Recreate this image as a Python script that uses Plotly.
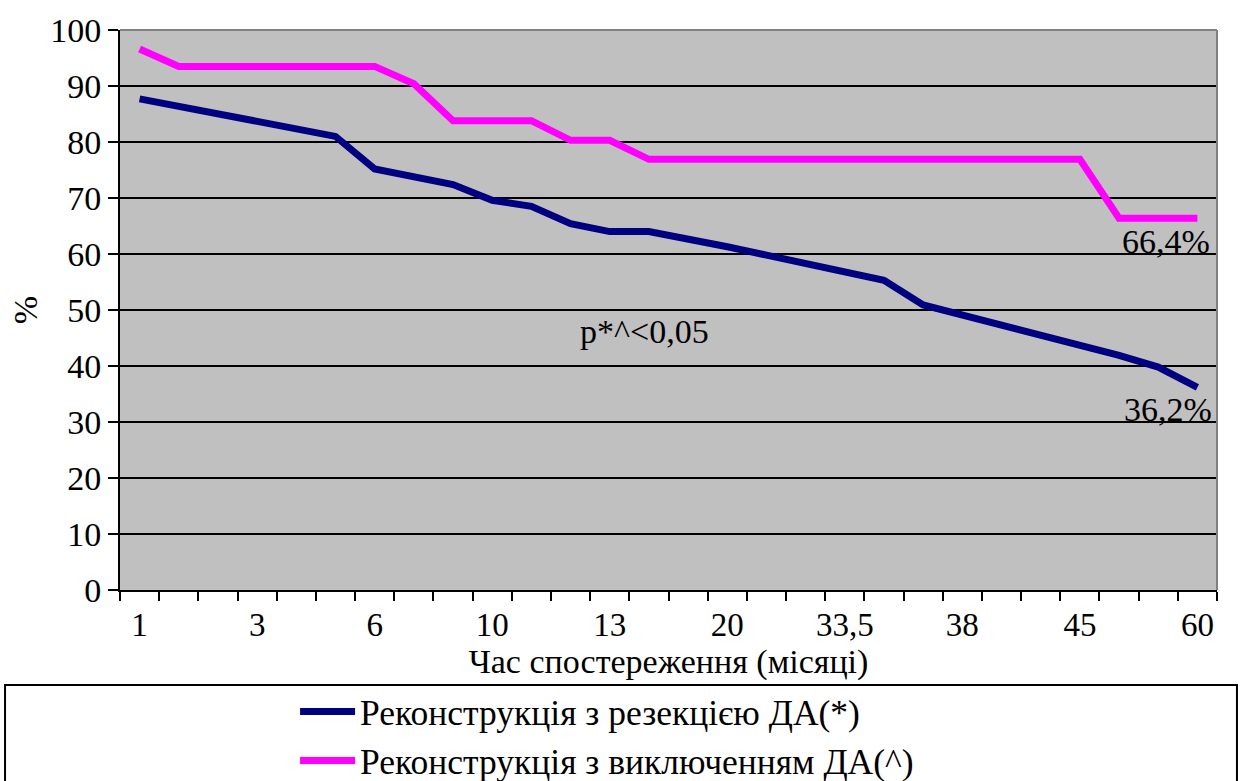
import plotly.graph_objects as go

# Observation time categories (months); only every third one is labelled
month_labels = ["1", "3", "6", "10", "13", "20", "33,5", "38", "45", "60"]
label_positions = [0, 3, 6, 9, 12, 15, 18, 21, 24, 27]
n_points = 28

# Survival, %
resection = [87.7, 86.4, 85.0, 83.7, 82.3, 81.0, 75.2, 73.9, 72.4, 69.6,
             68.5, 65.4, 64.0, 64.0, 62.8, 61.3, 59.8, 58.3, 56.8, 55.3,
             50.9, 49.1, 47.4, 45.6, 43.9, 41.9, 39.8, 36.2]
exclusion = [96.6, 93.5, 93.5, 93.5, 93.5, 93.5, 93.5, 90.4, 83.8, 83.8,
             83.8, 80.3, 80.3, 76.9, 76.9, 76.9, 76.9, 76.9, 76.9, 76.9,
             76.9, 76.9, 76.9, 76.9, 76.9, 66.4, 66.4, 66.4]

name_resection = "Реконструкція з резекцією ДА(*)"
name_exclusion = "Реконструкція з виключенням ДА(^)"
p_text = "p*^<0,05"

FONT = "'Times New Roman', 'Liberation Serif', serif"
FS = 34
x = list(range(n_points))

fig = go.Figure()
fig.add_trace(go.Scatter(x=x, y=resection, mode="lines", name=name_resection,
                         line=dict(color="#000080", width=7)))
fig.add_trace(go.Scatter(x=x, y=exclusion, mode="lines", name=name_exclusion,
                         line=dict(color="#FF00FF", width=7)))

# end-point value labels
fig.add_annotation(x=x[-1], y=exclusion[-1], text=f"{exclusion[-1]:.1f}%".replace(".", ","),
                   showarrow=False, xanchor="right", yanchor="top", xshift=15, yshift=-3,
                   font=dict(family=FONT, size=FS, color="black"))
fig.add_annotation(x=x[-1], y=resection[-1], text=f"{resection[-1]:.1f}%".replace(".", ","),
                   showarrow=False, xanchor="right", yanchor="top", xshift=17, yshift=-2,
                   font=dict(family=FONT, size=FS, color="black"))
fig.add_annotation(x=12.9, y=46.2, text=p_text, showarrow=False,
                   font=dict(family=FONT, size=FS, color="black"))

# legend frame spanning the page width
fig.add_shape(type="rect", xref="paper", yref="paper",
              x0=-0.1048, x1=1.0182, y0=-0.40, y1=-0.1696,
              line=dict(color="black", width=2), fillcolor="white", layer="below")

# plot frame: grey top/right edges
fig.add_shape(type="line", xref="paper", yref="paper", x0=0, x1=1, y0=1, y1=1,
              line=dict(color="#808080", width=2))
fig.add_shape(type="line", xref="paper", yref="paper", x0=1, x1=1, y0=0, y1=1,
              line=dict(color="#808080", width=2))

fig.update_layout(
    width=1243, height=781,
    margin=dict(l=120, r=26, t=30, b=191, autoexpand=False),
    paper_bgcolor="white",
    plot_bgcolor="#C0C0C0",
    font=dict(family=FONT, size=FS, color="black"),
    showlegend=True,
    legend=dict(x=0.444, xanchor="center", yref="container", y=0.127, yanchor="top",
                bgcolor="rgba(0,0,0,0)", borderwidth=0,
                font=dict(family=FONT, size=35.5, color="black"),
                tracegroupgap=0, itemwidth=55),
)

fig.update_xaxes(
    range=[-0.5, n_points - 0.5],
    tickmode="array", tickvals=label_positions, ticktext=month_labels,
    ticks="", showgrid=False, zeroline=False,
    showline=True, linecolor="black", linewidth=2,
    ticklabelstandoff=4, automargin=False,
    minor=dict(tickmode="array", tickvals=[i - 0.5 for i in range(n_points + 1)],
               ticks="outside", ticklen=9, tickwidth=2, tickcolor="black", showgrid=False),
    tickfont=dict(family=FONT, size=33),
    title=dict(text="Час спостереження (місяці)", standoff=0,
               font=dict(family=FONT, size=FS)),
)
fig.update_yaxes(
    range=[0, 100], tickmode="linear", tick0=0, dtick=10,
    ticks="outside", ticklen=10, tickwidth=2, tickcolor="black",
    showgrid=True, gridcolor="black", gridwidth=2, zeroline=False,
    showline=True, linecolor="black", linewidth=2, automargin=False,
    tickfont=dict(family=FONT, size=FS),
    title=dict(text="%", standoff=2, font=dict(family=FONT, size=FS)),
)

fig.write_html("out.html")
